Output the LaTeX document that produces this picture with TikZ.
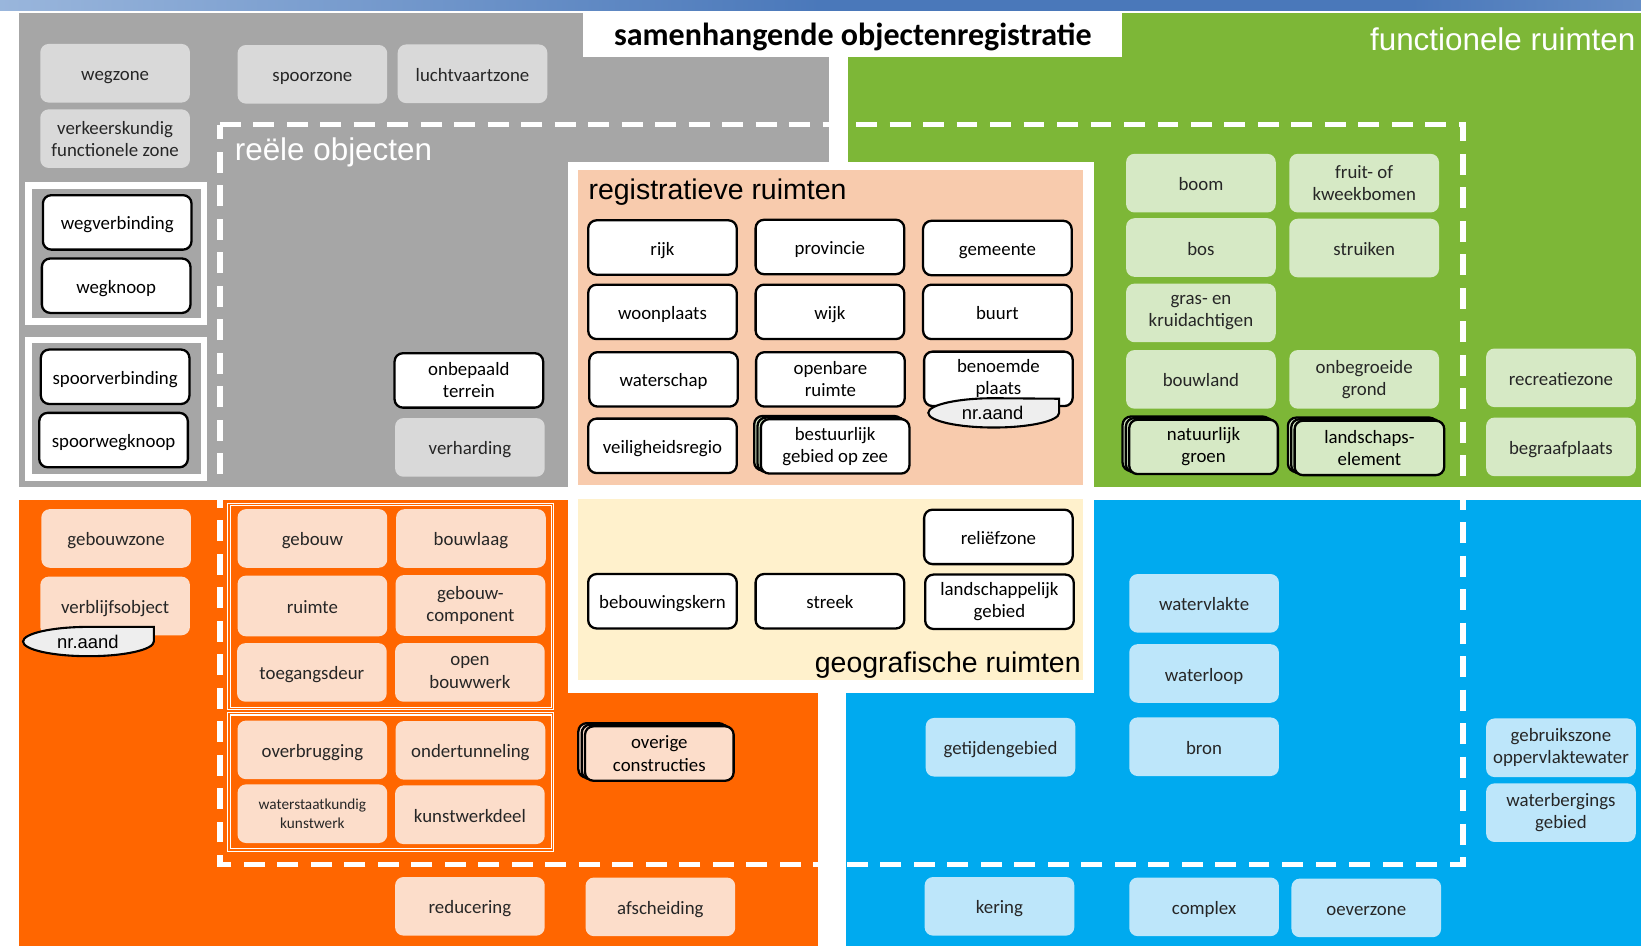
\documentclass[tikz,border=0pt]{standalone}
\usepackage{fontspec}
\setmainfont{Carlito}
\newfontfamily\arialf{Liberation Sans}
\usetikzlibrary{shadows}
\definecolor{cgray}{HTML}{A6A6A6}
\definecolor{lgray}{HTML}{D9D9D9}
\definecolor{cgreen}{HTML}{7DB737}
\definecolor{lgreen}{HTML}{D6E9C5}
\definecolor{cpeach}{HTML}{F8CBAD}
\definecolor{ccream}{HTML}{FFF1CC}
\definecolor{corange}{HTML}{FF6600}
\definecolor{lorange}{HTML}{FCDDCA}
\definecolor{cblue}{HTML}{00AAEF}
\definecolor{lblue}{HTML}{BDE6FA}
\definecolor{tagfill}{HTML}{EEEEEE}
\definecolor{stripL}{HTML}{D2E2F4}
\definecolor{stripM}{HTML}{4A78BA}
\definecolor{stripR}{HTML}{C4D9F0}
\pgfdeclarehorizontalshading{stripsh}{100bp}{color(0bp)=(stripL); color(20bp)=(stripL!70!stripM); color(50bp)=(stripM); color(68bp)=(stripM); color(100bp)=(stripR)}
\newcommand\boxtopstrut{\rule{0pt}{10.4pt}}
\newcommand\boxbotstrut{\rule[-3.2pt]{0pt}{3.2pt}}
\newcommand\boxbeg{}
\newcommand\boxend{}
\tikzset{
  bx/.style={rounded corners=4pt, minimum width=71.5pt, minimum height=28pt, inner sep=1pt,
    align=center, font=\fontsize{9}{10.6}\selectfont, text=black!85,
    /utils/exec={\def\boxbeg{\boxtopstrut}\def\boxend{\boxbotstrut}},
    execute at begin node=\boxbeg, execute at end node=\boxend},
  ml/.style={/utils/exec={\def\boxbeg{}\def\boxend{}}},
  gbx/.style={bx, fill=lgray},
  grbx/.style={bx, fill=lgreen},
  obx/.style={bx, fill=lorange},
  bbx/.style={bx, fill=lblue},
  wbx/.style={bx, fill=white, draw=black, line width=1.1pt, text=black,
    minimum width=71pt, minimum height=26pt},
  stk/.style={copy shadow={shadow xshift=-3.2pt, shadow yshift=1.5pt, fill=#1, draw=black, line width=1.1pt},
    copy shadow={shadow xshift=-1.6pt, shadow yshift=0.75pt, fill=#1, draw=black, line width=1.1pt}},
  ttl/.style={font=\arialf\fontsize{15}{18}\selectfont, inner sep=0pt},
  ttls/.style={font=\arialf\fontsize{13.6}{16}\selectfont, inner sep=0pt, text=black},
  tagshape/.style={fill=tagfill, draw=black, line width=1pt},
  tagtext/.style={font=\arialf\fontsize{8.8}{10}\selectfont, inner sep=0pt, text=black},
  grpframe/.style={draw=white, line width=3.2pt},
  ofr/.style={draw=white, line width=0.55pt, double=corange, double distance=0.7pt},
  dashline/.style={draw=white, line width=2.6pt, dash pattern=on 10pt off 6pt}
}
\begin{document}
\begin{tikzpicture}[x=0.5pt, y=-0.5pt]
\useasboundingbox (0,0) rectangle (1568,904);
\fill[white] (0,0) rectangle (1568,904);
% top strip
\shade[shading=stripsh] (0,0) rectangle (1568,10);
% regions
\fill[cgray] (18,12) rectangle (792,465);
\fill[cgreen] (810,12) rectangle (1568,465);
\fill[corange] (18,478) rectangle (782,904);
\fill[cblue] (808,478) rectangle (1568,904);
\fill[white] (557,12) rectangle (1072,54);
\fill[white] (543,155) rectangle (1045,662);
\fill[cpeach] (552,162) rectangle (1035,463);
\fill[ccream] (552,477) rectangle (1035,650);
% dashed boundary of reele objecten
\draw[dashline] (210,119) -- (1398,119) -- (1398,826) -- (210,826) -- cycle;
% group frames
\draw[grpframe] (27,177) rectangle (195,307);
\draw[grpframe] (27,325) rectangle (195,456);
\draw[ofr] (219,482) rectangle (528,677);
\draw[ofr] (219,682) rectangle (528,812);

% titles
\node[font=\bfseries\fontsize{15.3}{18}\selectfont, inner sep=0pt, anchor=base] (title) at (815,43) {samenhangende objectenregistratie};
\node[ttl, text=white, anchor=base west] (reeel) at (224,153) {reële objecten};
\node[ttl, text=white, anchor=base east] (funct) at (1563,48) {functionele ruimten};
\node[ttls, anchor=base west] (regis) at (562,191) {registratieve ruimten};
\node[ttls, anchor=base east] (geogr) at (1033,643) {geografische ruimten};

% gray region
\node[gbx] (wegzone) at (110,70) {wegzone};
\node[gbx] (spoorzone) at (298.5,71) {spoorzone};
\node[gbx] (lucht) at (451.5,70.5) {luchtvaartzone};
\node[gbx, ml] (vfz) at (110,132.5) {verkeerskundig\\functionele zone};
\node[wbx] (wegverb) at (112,212.5) {wegverbinding};
\node[wbx] (wegknoop) at (111,273) {wegknoop};
\node[wbx] (spoorverb) at (110,360) {spoorverbinding};
\node[wbx] (spoorknoop) at (108.5,420.5) {spoorwegknoop};
\node[wbx, ml] (onbepaald) at (448,363.5) {onbepaald\\terrein};
\node[gbx] (verharding) at (449,427.5) {verharding};

% registratieve ruimten
\node[wbx] (rijk) at (633,236.5) {rijk};
\node[wbx] (provincie) at (793,236) {provincie};
\node[wbx] (gemeente) at (953,237) {gemeente};
\node[wbx] (woonplaats) at (633,298) {woonplaats};
\node[wbx] (wijk) at (793,298) {wijk};
\node[wbx] (buurt) at (953,298) {buurt};
\node[wbx] (waterschap) at (634,362.5) {waterschap};
\node[wbx, ml] (openbare) at (793.5,362.5) {openbare\\ruimte};
\node[wbx, ml] (benoemde) at (954,362) {benoemde\\plaats};
\node[wbx] (veiligheid) at (633,426) {veiligheidsregio};
\node[wbx, ml, stk=lgreen] (bestuurlijk) at (798,426.5) {bestuurlijk\\gebied op zee};
\draw[tagshape] (1012,394.5) arc[start angle=0, end angle=-90, x radius=31.25pt, y radius=7pt]
  arc[start angle=270, end angle=90, x radius=31.25pt, y radius=7pt] -- (1012,381) -- cycle;
\node[tagtext, anchor=base] (nr1) at (948.5,401) {nr.aand};

% geografische ruimten
\node[wbx] (relief) at (954,513) {reliëfzone};
\node[wbx] (bebouwing) at (633,574.5) {bebouwingskern};
\node[wbx] (streek) at (793,574.5) {streek};
\node[wbx, ml] (landschappelijk) at (955,575) {landschappelijk\\gebied};

% functionele ruimten
\node[grbx] (boom) at (1147.5,175) {boom};
\node[grbx, ml] (fruit) at (1303.5,175) {fruit- of\\kweekbomen};
\node[grbx] (bos) at (1147.5,236.5) {bos};
\node[grbx] (struiken) at (1303.5,237) {struiken};
\node[grbx, ml] (gras) at (1147.5,299) {gras- en\\kruidachtigen};
\node[grbx] (bouwland) at (1147.5,362.5) {bouwland};
\node[grbx, ml] (onbegroeid) at (1303.5,362.5) {onbegroeide\\grond};
\node[grbx, ml, draw=black, line width=1.1pt, text=black, minimum width=71pt, minimum height=26pt, stk=lgreen] (natuurlijk) at (1150,427) {natuurlijk\\groen};
\node[grbx, ml, draw=black, line width=1.1pt, text=black, minimum width=71.5pt, minimum height=26pt, stk=lgreen] (landschaps) at (1308.5,428) {landschaps-\\element};
\node[grbx] (recreatie) at (1491.5,361) {recreatiezone};
\node[grbx] (begraaf) at (1491.5,427) {begraafplaats};

% orange region
\node[obx] (gebouwzone) at (111,514.5) {gebouwzone};
\node[obx] (verblijf) at (110,579) {verblijfsobject};
\draw[tagshape] (147,613) arc[start angle=0, end angle=-90, x radius=31.25pt, y radius=7pt]
  arc[start angle=270, end angle=90, x radius=31.25pt, y radius=7pt] -- (147,599) -- cycle;
\node[tagtext, anchor=base] (nr2) at (84,620) {nr.aand};
\node[obx] (gebouw) at (298.5,514.5) {gebouw};
\node[obx] (bouwlaag) at (450,514.5) {bouwlaag};
\node[obx, minimum height=29pt] (ruimte) at (298.5,579) {ruimte};
\node[obx, ml, minimum height=29pt] (gebcomp) at (449.5,578.5) {gebouw-\\component};
\node[obx] (toegang) at (298,642.5) {toegangsdeur};
\node[obx, ml] (openbw) at (449,642.5) {open\\bouwwerk};
\node[obx] (overbrugging) at (298.5,716.5) {overbrugging};
\node[obx] (ondertunneling) at (449.5,717) {ondertunneling};
\node[obx, ml, font=\fontsize{7.3}{9}\selectfont] (waterstaat) at (298.5,777.5) {waterstaatkundig\\kunstwerk};
\node[obx] (kunstwerkdeel) at (449,778.5) {kunstwerkdeel};
\node[obx, ml, draw=black, line width=1.1pt, text=black, minimum width=71pt, minimum height=26pt, stk=lorange] (overige) at (630,720) {overige\\constructies};
\node[obx] (reducering) at (449,866) {reducering};
\node[obx] (afscheiding) at (631,866.5) {afscheiding};

% blue region
\node[bbx] (watervlakte) at (1150.5,576.5) {watervlakte};
\node[bbx] (waterloop) at (1150.5,643.5) {waterloop};
\node[bbx] (bron) at (1150.5,713.5) {bron};
\node[bbx] (getijden) at (956,714) {getijdengebied};
\node[bbx, ml] (gebruikszone) at (1491.5,714.5) {gebruikszone\\oppervlaktewater};
\node[bbx, ml] (waterberging) at (1491.5,776.5) {waterbergings\\gebied};
\node[bbx] (kering) at (955,866) {kering};
\node[bbx] (complex) at (1150.5,866.5) {complex};
\node[bbx] (oeverzone) at (1305.5,867.5) {oeverzone};
\end{tikzpicture}
\end{document}
